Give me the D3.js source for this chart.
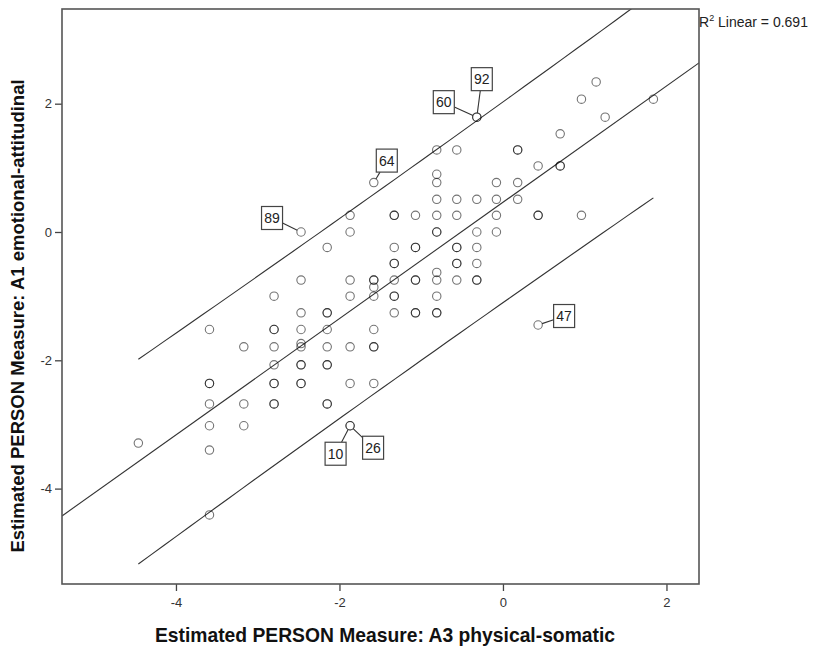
<!DOCTYPE html>
<html>
<head>
<meta charset="utf-8">
<script src="https://cdn.jsdelivr.net/npm/d3@7"></script>
<style>
  body { margin: 0; background: #fff; }
  svg { font-family: "Liberation Sans", Arial, sans-serif; }
  .tick text { font-size: 13px; fill: #333; }
  .tick line { stroke: #444; stroke-width: 1.3; }
</style>
</head>
<body>
<svg width="817" height="650"></svg>
<script>
// A3 physical-somatic person measures (x levels) and the A1 measures seen at each level
var a3Levels = [-4.46, -3.59, -3.17, -2.80, -2.47, -2.15, -1.87, -1.58, -1.33, -1.07,
    -0.81, -0.565, -0.32, -0.08, 0.18, 0.43, 0.70, 0.96, 1.14, 1.25, 1.84];
var a1ByLevel = [
    [-3.29],
    [-1.52, -2.36, -2.36, -2.68, -3.02, -3.40, -4.41],
    [-1.79, -2.68, -3.02],
    [-1.00, -1.52, -1.52, -1.79, -2.07, -2.36, -2.36, -2.68, -2.68],
    [0.00, -0.75, -1.26, -1.52, -1.74, -1.79, -2.07, -2.07, -2.36, -2.36],
    [-0.24, -1.26, -1.26, -1.52, -1.79, -2.07, -2.07, -2.68, -2.68],
    [0.26, 0.00, -0.75, -1.00, -1.79, -2.36, -3.02, -3.02],
    [0.77, -0.75, -0.75, -0.86, -1.00, -1.52, -1.79, -1.79, -2.36],
    [0.26, 0.26, -0.24, -0.49, -0.49, -0.75, -1.00, -1.00, -1.26],
    [0.26, -0.24, -0.24, -0.75, -0.75, -1.26, -1.26],
    [1.28, 0.90, 0.77, 0.51, 0.26, 0.00, 0.00, -0.63, -0.75, -1.00, -1.26, -1.26],
    [1.28, 0.51, 0.26, -0.24, -0.24, -0.49, -0.49, -0.75],
    [1.79, 1.79, 0.51, 0.00, -0.24, -0.49, -0.75, -0.75],
    [0.77, 0.51, 0.26, 0.00],
    [1.28, 1.28, 0.77, 0.51],
    [1.03, 0.26, 0.26, -1.45],
    [1.53, 1.03, 1.03],
    [2.07, 0.26],
    [2.34],
    [1.79],
    [2.07]
];

// labelled cases
var caseIds = ["89", "64", "60", "92", "47", "10", "26"];
var caseA3 = [-2.47, -1.58, -0.32, -0.32, 0.43, -1.87, -1.87];
var caseA1 = [0.00, 0.77, 1.79, 1.79, -1.45, -3.02, -3.02];

var xTicks = [-4, -2, 0, 2];
var yTicks = [2, 0, -2, -4];
var xTitle = "Estimated PERSON Measure: A3 physical-somatic";
var yTitle = "Estimated PERSON Measure: A1 emotional-attitudinal";
var fitText = "0.691";

// label box offsets in px (layout)
var labelOffsets = [[-29, -14], [13, -22], [-33, -15], [5, -38], [26, -9], [-14.5, 28], [23, 22]];

var svg = d3.select("svg");
var plotL = 62, plotR = 699, plotT = 9, plotB = 584;

var x = d3.scaleLinear().domain([-5.394, 2.398]).range([plotL, plotR]);
var y = d3.scaleLinear().domain([3.476, -5.487]).range([plotT, plotB]);

var points = [];
a3Levels.forEach(function(lv, i) {
    a1ByLevel[i].forEach(function(v) { points.push({ x: lv, y: v }); });
});

// linear fit and 95% individual prediction band
var n = points.length;
var mx = d3.mean(points, d => d.x), my = d3.mean(points, d => d.y);
var sxx = d3.sum(points, d => (d.x - mx) * (d.x - mx));
var sxy = d3.sum(points, d => (d.x - mx) * (d.y - my));
var slope = sxy / sxx, icpt = my - slope * mx;
var sse = d3.sum(points, d => Math.pow(d.y - (icpt + slope * d.x), 2));
var se = Math.sqrt(sse / (n - 2));
var tval = 1.98;
function band(xv, sign) {
    return icpt + slope * xv + sign * tval * se * Math.sqrt(1 + 1 / n + (xv - mx) * (xv - mx) / sxx);
}

svg.append("defs").append("clipPath").attr("id", "plot")
    .append("rect").attr("x", plotL).attr("y", plotT)
    .attr("width", plotR - plotL).attr("height", plotB - plotT);

var g = svg.append("g").attr("clip-path", "url(#plot)");

var line = d3.line().x(d => x(d[0])).y(d => y(d[1]));
var xd = x.domain();
g.append("path")
    .attr("d", line([[xd[0], icpt + slope * xd[0]], [xd[1], icpt + slope * xd[1]]]))
    .attr("fill", "none").attr("stroke", "#333").attr("stroke-width", 1.1);

var xmin = d3.min(points, d => d.x), xmax = d3.max(points, d => d.x);
var xs = d3.range(0, 41).map(i => xmin + (xmax - xmin) * i / 40);
[1, -1].forEach(function(s) {
    g.append("path")
        .attr("d", line(xs.map(v => [v, band(v, s)])))
        .attr("fill", "none").attr("stroke", "#333").attr("stroke-width", 1.1);
});

// points
g.selectAll("circle.pt")
    .data(points)
    .enter()
    .append("circle")
    .attr("class", "pt")
    .attr("cx", d => x(d.x))
    .attr("cy", d => y(d.y))
    .attr("r", 4.2)
    .attr("fill", "none")
    .attr("stroke", "#000")
    .attr("stroke-opacity", 0.55)
    .attr("stroke-width", 1.1);

// case labels
var bw = 21, bh = 23;
caseIds.forEach(function(id, i) {
    var px = x(caseA3[i]), py = y(caseA1[i]);
    var bx = px + labelOffsets[i][0], by = py + labelOffsets[i][1];
    var vx = bx - px, vy = by - py, len = Math.sqrt(vx * vx + vy * vy);
    var t = Math.min(bw / 2 / Math.abs(vx || 1e-6), bh / 2 / Math.abs(vy || 1e-6));
    svg.append("line")
        .attr("x1", px + vx / len * 4.2).attr("y1", py + vy / len * 4.2)
        .attr("x2", bx - vx * t).attr("y2", by - vy * t)
        .attr("stroke", "#333").attr("stroke-width", 1.1);
    svg.append("rect")
        .attr("x", bx - bw / 2).attr("y", by - bh / 2)
        .attr("width", bw).attr("height", bh)
        .attr("fill", "#fff").attr("stroke", "#444").attr("stroke-width", 1.2);
    svg.append("text")
        .attr("x", bx).attr("y", by + 5)
        .attr("text-anchor", "middle")
        .attr("font-size", 14).attr("fill", "#222")
        .text(id);
});

// axes
svg.append("g").attr("transform", "translate(0," + plotB + ")")
    .call(d3.axisBottom(x).tickValues(xTicks).tickFormat(d => String(d)).tickSize(7).tickPadding(7))
    .call(a => a.select(".domain").remove());
svg.append("g").attr("transform", "translate(" + plotL + ",0)")
    .call(d3.axisLeft(y).tickValues(yTicks).tickFormat(d => String(d)).tickSize(7).tickPadding(3))
    .call(a => a.select(".domain").remove());

// frame
svg.append("rect")
    .attr("x", plotL).attr("y", plotT)
    .attr("width", plotR - plotL).attr("height", plotB - plotT)
    .attr("fill", "none").attr("stroke", "#555").attr("stroke-width", 1.6);

// titles
svg.append("text")
    .attr("x", 385).attr("y", 642)
    .attr("text-anchor", "middle")
    .attr("font-size", 19.3).attr("font-weight", "bold").attr("fill", "#111")
    .text(xTitle);
svg.append("text")
    .attr("transform", "translate(24,316) rotate(-90)")
    .attr("text-anchor", "middle")
    .attr("font-size", 18.5).attr("font-weight", "bold").attr("fill", "#111")
    .text(yTitle);

var r2 = svg.append("text")
    .attr("x", plotR).attr("y", 27)
    .attr("font-size", 14).attr("fill", "#222");
r2.append("tspan").text("R");
r2.append("tspan").attr("font-size", 9).attr("dy", -6).text("2");
r2.append("tspan").attr("dy", 6).text(" Linear = " + fitText);

console.log("fit", slope, icpt, se);
</script>
</body>
</html>
